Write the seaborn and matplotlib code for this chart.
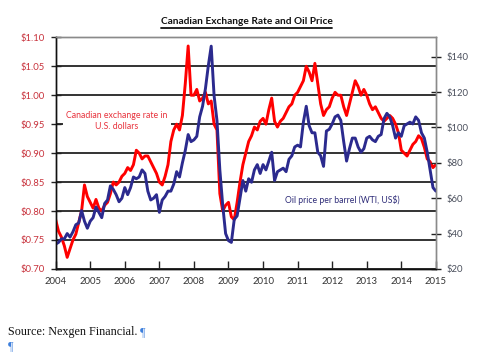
import pandas as pd
import numpy as np
import matplotlib
matplotlib.use("Agg")
import matplotlib.pyplot as plt
import matplotlib.ticker as mticker
from matplotlib.lines import Line2D
import seaborn as sns

# monthly readings, Jan 2004 .. Jan 2015
months = pd.date_range("2004-01-01", "2015-01-01", freq="MS")

cad_usd = [
    0.785, 0.765, 0.755, 0.740, 0.720, 0.735, 0.750, 0.760, 0.780, 0.800, 0.845, 0.825,  # 2004
    0.815, 0.805, 0.820, 0.805, 0.800, 0.810, 0.815, 0.830, 0.850, 0.845, 0.850, 0.860,  # 2005
    0.865, 0.875, 0.870, 0.880, 0.905, 0.900, 0.890, 0.895, 0.895, 0.885, 0.875, 0.865,  # 2006
    0.850, 0.845, 0.860, 0.880, 0.920, 0.940, 0.950, 0.940, 0.965, 1.020, 1.085, 1.000,  # 2007
    1.000, 1.010, 0.990, 0.995, 1.005, 0.985, 0.990, 0.950, 0.940, 0.830, 0.800, 0.810,  # 2008
    0.815, 0.790, 0.785, 0.815, 0.850, 0.880, 0.900, 0.920, 0.930, 0.945, 0.940, 0.955,  # 2009
    0.960, 0.950, 0.975, 0.995, 0.955, 0.945, 0.955, 0.960, 0.970, 0.980, 0.985, 1.000,  # 2010
    1.005, 1.015, 1.025, 1.050, 1.040, 1.025, 1.055, 1.020, 0.985, 0.965, 0.975, 0.980,  # 2011
    0.995, 1.005, 1.000, 1.000, 0.980, 0.965, 0.985, 1.005, 1.025, 1.015, 1.000, 1.010,  # 2012
    1.000, 0.985, 0.975, 0.980, 0.970, 0.960, 0.955, 0.960, 0.965, 0.960, 0.950, 0.935,  # 2013
    0.905, 0.900, 0.895, 0.905, 0.915, 0.920, 0.930, 0.925, 0.910, 0.890, 0.885, 0.875,  # 2014
    0.880,
]

oil_wti = [
    34, 35, 37, 37, 40, 38, 41, 45, 46, 53, 47, 43,        # 2004
    47, 49, 55, 52, 49, 57, 59, 67, 65, 62, 58, 60,        # 2005
    66, 62, 66, 72, 71, 72, 76, 74, 64, 59, 60, 62,        # 2006
    52, 59, 61, 64, 64, 68, 75, 72, 80, 87, 96, 92,        # 2007
    93, 95, 106, 112, 122, 135, 146, 118, 104, 76, 56, 40, # 2008
    36, 35, 48, 50, 60, 70, 64, 71, 69, 76, 79, 74,        # 2009
    79, 76, 81, 86, 70, 75, 76, 77, 75, 82, 84, 89,        # 2010
    90, 89, 103, 112, 101, 97, 97, 86, 84, 78, 98, 99,     # 2011
    102, 106, 107, 104, 92, 81, 88, 94, 94, 89, 86, 88,    # 2012
    94, 95, 93, 92, 95, 96, 105, 108, 106, 101, 94, 97,    # 2013
    95, 101, 102, 103, 102, 106, 104, 97, 94, 86, 76, 66,  # 2014
    64,
]

year_ticks = list(range(2004, 2016))

df = pd.DataFrame({
    "year": months.year + (months.month - 1) / 12,
    "cad": cad_usd,
    "oil": oil_wti,
})

sns.set_theme(style="white")
plt.rcParams["font.family"] = ["Lato", "DejaVu Sans"]

fig = plt.figure(figsize=(4.97, 3.52), dpi=100)
ax = fig.add_axes([0.112, 0.236, 0.765, 0.658])
ax2 = ax.twinx()

red = "#ff0000"
navy = "#2b2a8e"

sns.lineplot(data=df, x="year", y="cad", ax=ax, color=red, linewidth=2.1)
sns.lineplot(data=df, x="year", y="oil", ax=ax2, color=navy, linewidth=2.1)
ax.lines[0].set_zorder(6)

# left axis
ax.set_xlim(2004, 2015)
ax.set_ylim(0.70, 1.10)
ax.yaxis.set_major_locator(mticker.MultipleLocator(0.05))
ax.yaxis.set_major_formatter(mticker.FuncFormatter(lambda v, p: f"${v:.2f}"))
ax.set_xticks(year_ticks)
ax.set_xlabel("")
ax.set_ylabel("")
ax.grid(axis="y", color="#333333", linewidth=1.4)
ax.set_axisbelow(True)
ax.tick_params(axis="y", colors="#222222", labelcolor="#c8323c", labelsize=6.8,
               direction="inout", length=7, width=1, left=True, pad=4)
ax.tick_params(axis="x", colors="#222222", labelcolor="#333333", labelsize=6.8,
               direction="in", length=6, width=1, bottom=True, pad=6)

# right axis
ax2.set_ylim(20, 151)
ax2.set_yticks([20, 40, 60, 80, 100, 120, 140])
ax2.yaxis.set_major_formatter(mticker.FuncFormatter(lambda v, p: f"${v:.0f}"))
ax2.set_ylabel("")
ax2.tick_params(axis="y", colors="#222222", labelcolor="#4a4f5c", labelsize=6.8,
                direction="inout", length=7, width=1, right=True, pad=4)

for a in (ax, ax2):
    a.spines["left"].set_color("#111111")
    a.spines["bottom"].set_color("#111111")
    a.spines["top"].set_color("#8a8a8a")
    a.spines["right"].set_color("#8a8a8a")
    for s in a.spines.values():
        s.set_linewidth(1.0)

# series labels
ax.text(2005.77, 0.955, "Canadian exchange rate in\nU.S. dollars", color="#e8323c",
        fontsize=6.3, ha="center", va="center", linespacing=1.3, zorder=4,
        bbox=dict(facecolor="white", edgecolor="none", pad=2.5))
ax.text(2012.3, 0.819, "Oil price per barrel (WTI, US$)", color="#2e2c78",
        fontsize=6.2, ha="center", va="center", zorder=4)

# underlined title
title = fig.text(0.496, 0.9375, "Canadian Exchange Rate and Oil Price",
                 ha="center", va="center", fontsize=7.3, fontweight="bold", color="#111111")
fig.canvas.draw()
bb = title.get_window_extent().transformed(fig.transFigure.inverted())
fig.add_artist(Line2D([bb.x0, bb.x1], [bb.y0 - 0.005, bb.y0 - 0.005],
                      transform=fig.transFigure, color="#111111", linewidth=1.3))

# source note
src = fig.text(0.016, 0.057, "Source: Nexgen Financial.", family="Liberation Serif",
               fontsize=8.7, color="#111111", va="center", ha="left")
fig.canvas.draw()
sb = src.get_window_extent().transformed(fig.transFigure.inverted())
fig.text(sb.x1 + 0.006, 0.057, "\u00b6", family="Liberation Serif", fontsize=8.7,
         color="#3d7fdc", va="center", ha="left")
fig.text(0.016, 0.017, "\u00b6", family="Liberation Serif", fontsize=8.7,
         color="#3d7fdc", va="center", ha="left")

plt.savefig("out.png", dpi=100)
